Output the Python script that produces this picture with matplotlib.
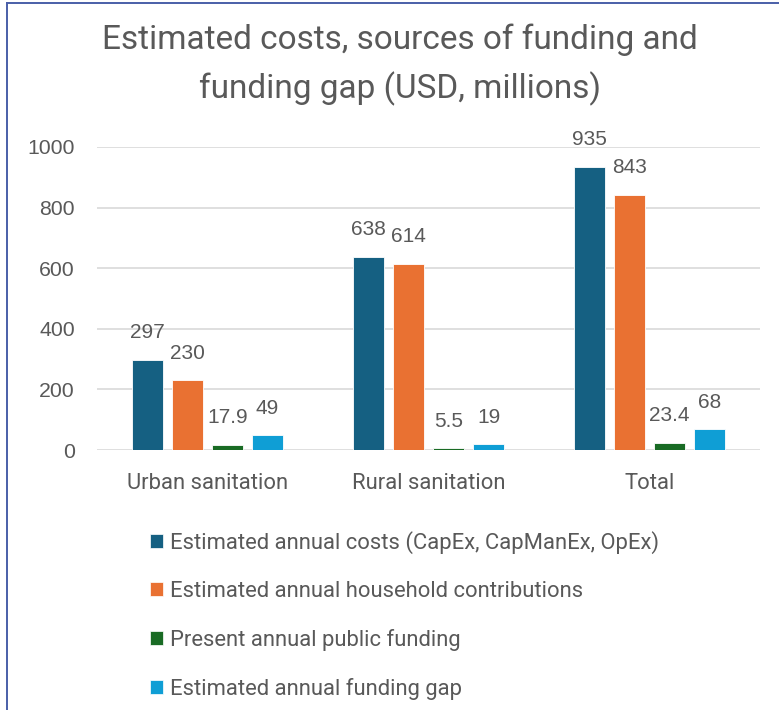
import numpy as np
import matplotlib
matplotlib.use("Agg")
import matplotlib.pyplot as plt
from matplotlib import font_manager
from matplotlib.lines import Line2D
from matplotlib.patches import Patch

# data (USD, millions)
categories = ["Urban sanitation", "Rural sanitation", "Total"]
series_names = [
    "Estimated annual costs (CapEx, CapManEx, OpEx)",
    "Estimated annual household contributions",
    "Present annual public funding",
    "Estimated annual funding gap",
]
annual_costs = [297, 638, 935]
household_contrib = [230, 614, 843]
public_funding = [17.9, 5.5, 23.4]
funding_gap = [49, 19, 68]
series_colors = ["#156082", "#E97132", "#196B24", "#0F9ED5"]

# narrow face for the headings if it is there
installed = {f.name for f in font_manager.fontManager.ttflist}
text_font = "Liberation Sans Narrow" if "Liberation Sans Narrow" in installed else "Roboto"
num_font = "Liberation Sans"
grey = "#595959"

W, H = 779, 710
fig = plt.figure(figsize=(W / 100, H / 100), dpi=100)
fig.patch.set_facecolor("white")

# plot area in pixels: left 97, right 760, top 147, bottom 450
ax = fig.add_axes([97 / W, 1 - 450 / H, (760 - 97) / W, (450 - 147) / H])

x = np.arange(len(categories))
step = 0.181
width = 0.14
all_series = [annual_costs, household_contrib, public_funding, funding_gap]

for i, (vals, color) in enumerate(zip(all_series, series_colors)):
    pos = x + (i - 1.5) * step
    bars = ax.bar(pos, vals, width=width, color=color, edgecolor="white",
                  linewidth=0.6, zorder=3)
    for b, v in zip(bars, vals):
        ax.annotate(f"{v:g}", (b.get_x() + b.get_width() / 2, b.get_height()),
                    xytext=(0, 19.5), textcoords="offset points",
                    ha="center", va="center", fontsize=15, color=grey,
                    family=num_font, annotation_clip=False)

ax.set_xlim(-0.5, 2.5)
ax.set_ylim(0, 1000)
ax.set_yticks(range(0, 1001, 200))
ax.set_xticks(x)
ax.set_xticklabels(categories, family=text_font, fontsize=15.8, color=grey)
for lab in ax.get_yticklabels():
    lab.set_family(num_font)
    lab.set_fontsize(15.3)
    lab.set_color(grey)
ax.tick_params(axis="y", length=0, pad=16)
ax.tick_params(axis="x", length=0, pad=16.5)
ax.grid(axis="y", color="#d9d9d9", linewidth=1.2, zorder=0)
for s in ax.spines.values():
    s.set_visible(False)

# title
fig.text(400 / W, 1 - 49 / H, "Estimated costs, sources of funding and",
         ha="center", va="baseline", fontsize=24, color=grey, family=text_font)
fig.text(400 / W, 1 - 98 / H, "funding gap (USD, millions)",
         ha="center", va="baseline", fontsize=24, color=grey, family=text_font)

# legend below the plot
handles = [Patch(facecolor=c, edgecolor="white", linewidth=0.5) for c in series_colors]
fig.legend(handles, series_names, loc="upper left",
           bbox_to_anchor=(150 / W, 1 - 531 / H), frameon=False,
           prop={"family": text_font, "size": 15.8}, labelcolor=grey,
           handlelength=0.6, handleheight=0.6, handletextpad=0.3,
           labelspacing=1.23, borderpad=0, borderaxespad=0)

# chart frame (left and top edges)
frame = "#4a5fa8"
fig.add_artist(Line2D([6.5 / W, 6.5 / W], [0, 1 - 2.5 / H], transform=fig.transFigure,
                      color=frame, linewidth=1.4))
fig.add_artist(Line2D([6.5 / W, 1], [1 - 2.5 / H, 1 - 2.5 / H], transform=fig.transFigure,
                      color=frame, linewidth=1.4))

fig.savefig("out.png", dpi=100)
